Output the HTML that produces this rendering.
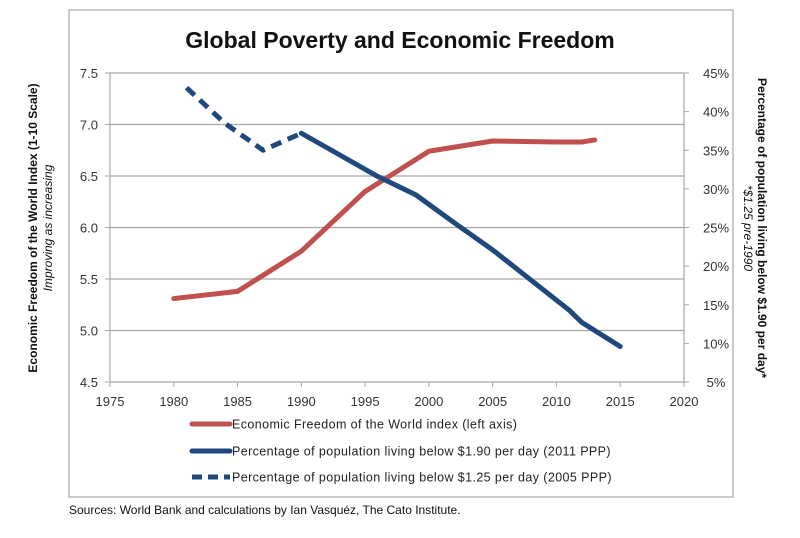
<!DOCTYPE html>
<html><head><meta charset="utf-8"><style>
body{margin:0;background:#fff;width:800px;height:533px;overflow:hidden;font-family:"Liberation Sans",sans-serif}
</style></head><body>
<svg width="800" height="533" viewBox="0 0 800 533">
<rect x="69" y="10" width="664" height="487" fill="#fff" stroke="#a6a6a6" stroke-width="1.2"/>
<text x="400" y="48" text-anchor="middle" font-size="23" font-weight="bold" fill="#111">Global Poverty and Economic Freedom</text>
<g id="grid"></g><g id="axes"></g><g id="series"></g>
<text transform="translate(37,228) rotate(-90)" text-anchor="middle" font-size="12" font-weight="bold" fill="#111">Economic Freedom of the World Index (1-10 Scale)</text>
<text transform="translate(52,228) rotate(-90)" text-anchor="middle" font-size="12" font-style="italic" fill="#111">Improving as increasing</text>
<text transform="translate(758,228) rotate(90)" text-anchor="middle" font-size="12" font-weight="bold" fill="#111">Percentage of population living below $1.90 per day*</text>
<text transform="translate(744,228) rotate(90)" text-anchor="middle" font-size="12" font-style="italic" fill="#111">*$1.25 pre-1990</text>
<g font-size="12.5" fill="#222" letter-spacing="0.4">
<line x1="192" y1="424" x2="230" y2="424" stroke="#c0504d" stroke-width="5" stroke-linecap="round"/>
<text x="232" y="428.5">Economic Freedom of the World index (left axis)</text>
<line x1="192" y1="451" x2="230" y2="451" stroke="#1f497d" stroke-width="5" stroke-linecap="round"/>
<text x="232" y="455.5">Percentage of population living below $1.90 per day (2011 PPP)</text>
<line x1="192" y1="477" x2="230" y2="477" stroke="#1f497d" stroke-width="5" stroke-dasharray="10 6"/>
<text x="232" y="481.5">Percentage of population living below $1.25 per day (2005 PPP)</text>
</g>
<text x="69" y="514" font-size="12" fill="#111">Sources: World Bank and calculations by Ian Vasquéz, The Cato Institute.</text>
</svg>
<script>
const xTicks=[1975,1980,1985,1990,1995,2000,2005,2010,2015,2020];
const leftTicks=[4.5,5.0,5.5,6.0,6.5,7.0,7.5];
const rightTicks=[5,10,15,20,25,30,35,40,45];
const freedomYears=[1980,1985,1990,1995,2000,2005,2010,2012,2013];
const freedomValues=[5.31,5.38,5.77,6.35,6.74,6.84,6.83,6.83,6.85];
const poverty190Years=[1990,1993,1996,1999,2002,2005,2008,2011,2012,2015];
const poverty190Values=[37.2,34.4,31.6,29.2,25.6,22.1,18.2,14.3,12.7,9.6];
const poverty125Years=[1981,1984,1987,1990];
const poverty125Values=[43.1,38.5,35.0,37.2];
const NS="http://www.w3.org/2000/svg";
const X0=110,X1=684,Y0=382,Y1=73;
const x=v=>X0+(v-1975)/45*(X1-X0);
const yL=v=>Y0-(v-4.5)/3*(Y0-Y1);
const yR=v=>Y0-(v-5)/40*(Y0-Y1);
function mk(t,a,p){const e=document.createElementNS(NS,t);for(const k in a)e.setAttribute(k,a[k]);p.appendChild(e);return e;}
const grid=document.getElementById('grid'),axes=document.getElementById('axes'),ser=document.getElementById('series');
leftTicks.forEach((v,i)=>{
 if(i>0){const g=mk('line',{x1:X0,x2:X1,y1:yL(v),y2:yL(v),stroke:'#a6a6a6','stroke-width':1.2},grid);
 
 }
 const tk=mk('line',{x1:X0-5,x2:X0,y1:yL(v),y2:yL(v),stroke:'#a6a6a6'},axes);
 
 
 const t=mk('text',{x:X0-12,y:yL(v)+5,'text-anchor':'end','font-size':13,fill:'#333'},axes);t.textContent=v.toFixed(1);
 
 
});
rightTicks.forEach(v=>{
 const tk=mk('line',{x1:X1,x2:X1+5,y1:yR(v),y2:yR(v),stroke:'#a6a6a6'},axes);
 
 
 const t=mk('text',{x:X1+32,y:yR(v)+5,'text-anchor':'middle','font-size':13,fill:'#333'},axes);t.textContent=v+'%';
 
 
});
xTicks.forEach(v=>{
 const tk=mk('line',{x1:x(v),x2:x(v),y1:Y0,y2:Y0+5,stroke:'#a6a6a6'},axes);
 
 
 const t=mk('text',{x:x(v),y:Y0+24,'text-anchor':'middle','font-size':13,fill:'#333'},axes);t.textContent=v;
 
 
});
const la=mk('line',{x1:X0,x2:X0,y1:Y1,y2:Y0,stroke:'#a6a6a6','stroke-width':1.2},axes);


const ra=mk('line',{x1:X1,x2:X1,y1:Y1,y2:Y0,stroke:'#a6a6a6','stroke-width':1.2},axes);


const xa=mk('line',{x1:X0,x2:X1,y1:Y0,y2:Y0,stroke:'#a6a6a6','stroke-width':1.2},axes);


function pts(xs,ys,f){return xs.map((v,i)=>x(v)+','+f(ys[i])).join(' ');}
const p1=mk('polyline',{points:pts(freedomYears,freedomValues,yL),fill:'none',stroke:'#c0504d','stroke-width':5,'stroke-linejoin':'round','stroke-linecap':'round'},ser);


const p2=mk('polyline',{points:pts(poverty190Years,poverty190Values,yR),fill:'none',stroke:'#1f497d','stroke-width':5,'stroke-linejoin':'round','stroke-linecap':'round'},ser);


const p3=mk('polyline',{points:pts(poverty125Years,poverty125Values,yR),fill:'none',stroke:'#1f497d','stroke-width':5,'stroke-dasharray':'11 7','stroke-linejoin':'round'},ser);


</script>
</body></html>
